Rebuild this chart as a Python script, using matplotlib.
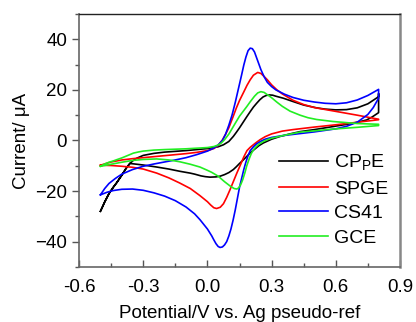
# Cyclic voltammograms of four electrodes
import matplotlib
matplotlib.use("Agg")
import matplotlib.pyplot as plt
from matplotlib.ticker import MultipleLocator, FuncFormatter

plt.rcParams['font.family'] = ['Liberation Sans', 'DejaVu Sans']

# CPpE (black): forward scan then reverse scan
cppe_v = [-0.5, -0.48, -0.46, -0.44, -0.424, -0.4, -0.38, -0.362, -0.345, -0.33, -0.3, -0.25, -0.2,
          -0.1, 0.0, 0.05, 0.075, 0.1, 0.121, 0.135, 0.15, 0.167, 0.184, 0.2, 0.215, 0.23, 0.245,
          0.26, 0.275, 0.29, 0.305, 0.32, 0.355, 0.4, 0.45, 0.51, 0.55, 0.6, 0.65, 0.7, 0.75, 0.8, 0.8,
          0.8, 0.77, 0.744, 0.7, 0.66, 0.587, 0.5, 0.433, 0.386, 0.34, 0.3, 0.261, 0.24, 0.22, 0.2,
          0.184, 0.165, 0.15, 0.135, 0.121, 0.1, 0.08, 0.06, 0.04, 0.012, -0.01, -0.03, -0.06,
          -0.081, -0.128, -0.18, -0.237, -0.3, -0.34, -0.362, -0.38, -0.4, -0.424, -0.44, -0.46,
          -0.48, -0.5]
cppe_i = [-28, -24.3, -21, -18.5, -16.7, -13.7, -11, -9, -7.8, -7, -5.9, -5.1, -4.6,
          -4, -3.2, -2.5, -1.7, -0.4, 1.6, 3.2, 5, 7.2, 9.4, 11.4, 13.2, 14.7, 16.1,
          17.2, 17.8, 18, 17.9, 17.5, 16.7, 15.4, 14, 12.9, 12.4, 12.1, 12.2, 12.9, 14.5, 17.3, 18.5,
          11, 9.3, 8.1, 7.2, 6.5, 5.5, 4.3, 3.5, 2.6, 1.6, 0.5, -1, -2.1, -3.5, -4.9,
          -6.3, -7.9, -9.1, -10.4, -11.5, -12.7, -13.5, -14.1, -14.4, -14.5, -14.3, -14, -13.3,
          -12.9, -12.2, -11.3, -10.5, -9.7, -9.3, -9.1, -11, -13.7, -16.7, -18.5, -21,
          -24.3, -28]

# SPGE (red)
spge_v = [-0.5, -0.47, -0.45, -0.4, -0.35, -0.3, -0.2, -0.1, -0.05, 0.0, 0.03, 0.05, 0.07, 0.085,
          0.1, 0.12, 0.135, 0.15, 0.17, 0.185, 0.2, 0.215, 0.235, 0.25, 0.265, 0.28, 0.3, 0.325,
          0.35, 0.4, 0.45, 0.5, 0.6, 0.7, 0.8,
          0.8, 0.7, 0.6, 0.5, 0.4, 0.35, 0.3, 0.27, 0.246, 0.225, 0.2, 0.185, 0.17, 0.155, 0.137,
          0.12, 0.106, 0.09, 0.075, 0.06, 0.043, 0.03, 0.015, 0.0, -0.035, -0.08, -0.13, -0.18,
          -0.237, -0.3, -0.35, -0.4, -0.45, -0.5]
spge_i = [-9.8, -9, -8.5, -7.7, -7.2, -6.8, -6, -5.2, -4.7, -4, -3.2, -2, 0.2, 2.5,
          5, 9.4, 12.8, 15.8, 19.2, 21.8, 24, 25.8, 26.9, 26.5, 25.3, 24, 22, 20,
          18.4, 15.9, 14.2, 13, 11.5, 10, 8.4,
          8.2, 7.2, 6.2, 5.3, 4.3, 3.7, 2.6, 1.5, 0.3, -1, -2.7, -4, -6.5, -9.5, -13,
          -16.5, -19.4, -22.5, -25, -26.4, -26.9, -26.6, -25.5, -24.2, -21.8, -19, -16.8, -14.8,
          -12.9, -11.3, -10.6, -10.2, -9.9, -9.8]

# CS41 (blue)
cs41_v = [-0.5, -0.48, -0.46, -0.43, -0.4, -0.35, -0.3, -0.25, -0.2, -0.15, -0.1, -0.05, 0.0,
          0.03, 0.05, 0.07, 0.085, 0.1, 0.115, 0.13, 0.145, 0.16, 0.17, 0.18, 0.19, 0.2, 0.21,
          0.22, 0.235, 0.25, 0.265, 0.28, 0.3, 0.32, 0.36, 0.4, 0.45, 0.5, 0.55, 0.6, 0.65, 0.7,
          0.75, 0.8,
          0.8, 0.775, 0.75, 0.7, 0.65, 0.6, 0.5, 0.4, 0.35, 0.3, 0.27, 0.25, 0.23, 0.215, 0.2,
          0.19, 0.18, 0.17, 0.16, 0.15, 0.14, 0.13, 0.12, 0.11, 0.1, 0.09, 0.08, 0.07, 0.059,
          0.05, 0.04, 0.03, 0.02, 0.0, -0.035, -0.06, -0.1, -0.15, -0.2, -0.25, -0.3, -0.35,
          -0.4, -0.44, -0.47, -0.5]
cs41_i = [-21.5, -19, -17, -15, -13.3, -11.5, -10.2, -9.3, -8.5, -7.7, -6.8, -5.6, -4.2,
          -3, -1.8, 0, 2.5, 6, 10, 15, 20.5, 26, 29.8, 33, 35.5, 36.5, 36.3,
          35, 31.5, 28, 25.2, 23, 21.3, 20, 18.3, 17, 15.9, 15.2, 14.7, 14.5, 14.9, 16,
          17.8, 20.2,
          16.7, 13, 10.3, 7.2, 5.6, 4.6, 3.4, 2.4, 1.9, 1.2, 0.5, -0.3, -1.3, -2.5, -4,
          -6, -8.5, -11.5, -15, -18.5, -23, -27.5, -31.5, -35, -37.8, -40, -41.3, -42.1, -42.3,
          -41.9, -40.8, -39.3, -37.7, -35, -31.3, -29, -26.3, -23.8, -22, -20.7, -19.7, -19.2,
          -19.3, -19.8, -20.5, -21.5]

# GCE (green)
gce_v = [-0.5, -0.48, -0.46, -0.44, -0.424, -0.4, -0.38, -0.36, -0.346, -0.32, -0.3, -0.25, -0.2,
         -0.1, 0.0, 0.03, 0.05, 0.065, 0.08, 0.1, 0.121, 0.135, 0.15, 0.167, 0.184, 0.2, 0.22,
         0.235, 0.25, 0.265, 0.28, 0.3, 0.324, 0.35, 0.386, 0.433, 0.47, 0.51, 0.587, 0.7, 0.8,
         0.8, 0.7, 0.587, 0.5, 0.433, 0.386, 0.34, 0.3, 0.28, 0.261, 0.24, 0.225, 0.215, 0.205,
         0.195, 0.184, 0.175, 0.165, 0.155, 0.145, 0.137, 0.125, 0.106, 0.08, 0.05, 0.02, 0.0,
         -0.035, -0.08, -0.13, -0.18, -0.237, -0.3, -0.35, -0.4, -0.45, -0.5]
gce_i = [-10.2, -9.3, -8.6, -8.1, -7.6, -6.9, -6.2, -5.5, -5, -4.5, -4.2, -3.8, -3.6,
         -3.3, -2.8, -2.4, -1.8, -1, 0.3, 2.5, 5.5, 7.5, 9.6, 11.5, 13.4, 15.3, 17.5,
         18.8, 19.3, 19, 18.1, 16.9, 15.2, 13.5, 11.6, 10, 9, 8.3, 7.5, 6.7, 6.4,
         5.9, 5.2, 4.5, 3.8, 3.3, 2.5, 1.7, 0.9, 0.3, -0.4, -1.5, -2.7, -3.7, -5.2,
         -7.3, -10, -12.8, -15.5, -17.6, -18.8, -19.2, -19, -18, -16.3, -14.1, -12.6, -11.8,
         -10.5, -9.4, -8.4, -7.7, -7.3, -7.5, -7.9, -8.6, -9.4, -10.2]

labels = ['CP$_\\mathregular{P}$E', 'SPGE', 'CS41', 'GCE']
colors = ['black', '#ff0000', '#0000ff', '#22ee22']

fig = plt.figure(figsize=(4.16, 3.22), dpi=100)
ax = fig.add_axes([0.19, 0.171, 0.7715, 0.7855])

curves = [(cppe_v, cppe_i), (spge_v, spge_i), (cs41_v, cs41_i), (gce_v, gce_i)]
for (v, i), lab, c in zip(curves, labels, colors):
    ax.plot(v, i, color=c, lw=1.2, label=lab)

ax.set_xlim(-0.6, 0.9)
ax.set_ylim(-50, 50)
ax.xaxis.set_major_locator(MultipleLocator(0.3))
ax.xaxis.set_minor_locator(MultipleLocator(0.15))
ax.yaxis.set_major_locator(MultipleLocator(20))
ax.yaxis.set_minor_locator(MultipleLocator(10))
ax.xaxis.set_major_formatter(FuncFormatter(lambda x, p: f"{x:.1f}".replace("-0.0", "0.0")))
ax.tick_params(axis='x', which='major', direction='in', length=5, width=1, color='#555555',
               labelsize=13.5, pad=9)
ax.tick_params(axis='x', which='minor', direction='in', length=3, width=1, color='#555555')
ax.tick_params(axis='y', which='major', direction='out', length=5, width=1, color='#555555',
               labelsize=13.5)
ax.tick_params(axis='y', which='minor', direction='out', length=3, width=1, color='#555555')

for s in ['left', 'bottom']:
    ax.spines[s].set_color('#666666')
    ax.spines[s].set_linewidth(1.2)
ax.spines['right'].set_color('#888888')
ax.spines['right'].set_linewidth(1.8)
ax.spines['top'].set_color('#222222')
ax.spines['top'].set_linewidth(1.0)

ax.set_xlabel('Potential/V vs. Ag pseudo-ref', fontsize=13.5, labelpad=6)
ax.set_ylabel('Current/ μA', fontsize=13.5, labelpad=4)

ax.legend(loc='lower left', bbox_to_anchor=(0.6, 0.05), frameon=False, fontsize=14,
          handlelength=2.5, handletextpad=0.3, labelspacing=0.35, borderaxespad=0)

fig.savefig('out.png', dpi=100)
